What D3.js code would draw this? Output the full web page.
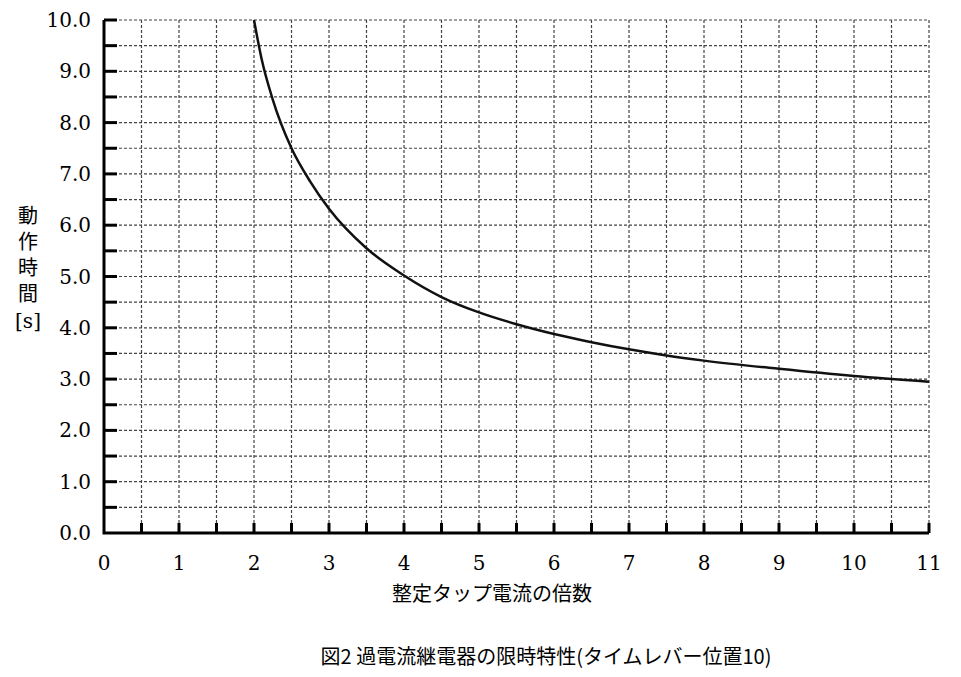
<!DOCTYPE html>
<html><head><meta charset="utf-8">
<script src="https://cdn.jsdelivr.net/npm/d3@7"></script>
<style>body{margin:0;background:#fff}</style></head>
<body><svg id="chart" width="961" height="677"></svg>
<script>
// 整定タップ電流の倍数 vs 動作時間
const multiples = [2.0, 2.1, 2.25, 2.5, 2.75, 3, 3.5, 4, 4.5, 5, 5.5, 6, 6.5, 7, 7.5, 8, 9, 10, 11];
const times = [10.0, 9.25, 8.45, 7.5, 6.85, 6.32, 5.55, 5.02, 4.6, 4.3, 4.07, 3.88, 3.72, 3.58, 3.46, 3.36, 3.2, 3.06, 2.95];
const xTicks = d3.range(0, 12);
const yTicks = d3.range(0, 11);
const gridSteps = d3.range(0, 11.01, 0.5);

const svg = d3.select("#chart");
const x = d3.scaleLinear().domain([0, 11]).range([104, 929]);
const y = d3.scaleLinear().domain([0, 10]).range([533, 20]);

const grid = svg.append("g").attr("stroke", "#444").attr("stroke-width", 1.2).attr("stroke-dasharray", "3,2");
grid.selectAll(".gx").data(gridSteps.filter(d => d > 0)).enter().append("line")
  .attr("x1", d => x(d)).attr("x2", d => x(d)).attr("y1", y(10)).attr("y2", y(0));
grid.selectAll(".gy").data(d3.range(0.5, 10.01, 0.5)).enter().append("line")
  .attr("y1", d => y(d)).attr("y2", d => y(d)).attr("x1", x(0)).attr("x2", x(11));

// inward ticks
const ticks = svg.append("g").attr("stroke", "#000").attr("stroke-width", 3);
ticks.selectAll(".ty").data(d3.range(0.5, 10.01, 0.5)).enter().append("line")
  .attr("x1", x(0)).attr("x2", x(0) + 13).attr("y1", d => y(d)).attr("y2", d => y(d));
ticks.selectAll(".tx").data(gridSteps.filter(d => d > 0)).enter().append("line")
  .attr("y1", y(0)).attr("y2", y(0) - 10).attr("x1", d => x(d)).attr("x2", d => x(d));

svg.append("path").attr("fill", "none").attr("stroke", "#000").attr("stroke-width", 3)
  .attr("d", `M${x(0)},${y(10)}V${y(0)}H${x(11)}`);

svg.append("g").selectAll("text").data(yTicks).enter().append("text")
  .attr("x", 91).attr("y", d => y(d) + 7).attr("text-anchor", "end")
  .attr("font-family", "DejaVu Serif").attr("font-size", 20).text(d => d.toFixed(1));
svg.append("g").selectAll("text").data(xTicks).enter().append("text")
  .attr("x", d => x(d)).attr("y", 570).attr("text-anchor", "middle")
  .attr("font-family", "DejaVu Serif").attr("font-size", 20).text(d => d);

const line = d3.line().x((d, i) => x(multiples[i])).y(d => y(d)).curve(d3.curveMonotoneX);
svg.append("path").datum(times).attr("fill", "none").attr("stroke", "#111").attr("stroke-width", 2.5).attr("d", line);

const jp = "Noto Sans CJK JP";
["動", "作", "時", "間"].forEach((c, i) => {
  svg.append("text").attr("x", 28).attr("y", 223 + i * 26).attr("text-anchor", "middle")
    .attr("font-family", jp).attr("font-size", 20).text(c);
});
svg.append("text").attr("x", 28).attr("y", 328).attr("text-anchor", "middle")
  .attr("font-family", "DejaVu Serif").attr("font-size", 20).text("[s]");
svg.append("text").attr("x", 492).attr("y", 601).attr("text-anchor", "middle")
  .attr("font-family", jp).attr("font-size", 20).text("整定タップ電流の倍数");
svg.append("text").attr("x", 546).attr("y", 664).attr("text-anchor", "middle")
  .attr("font-family", jp).attr("font-size", 20).text("図2  過電流継電器の限時特性(タイムレバー位置10)");
</script></body></html>
